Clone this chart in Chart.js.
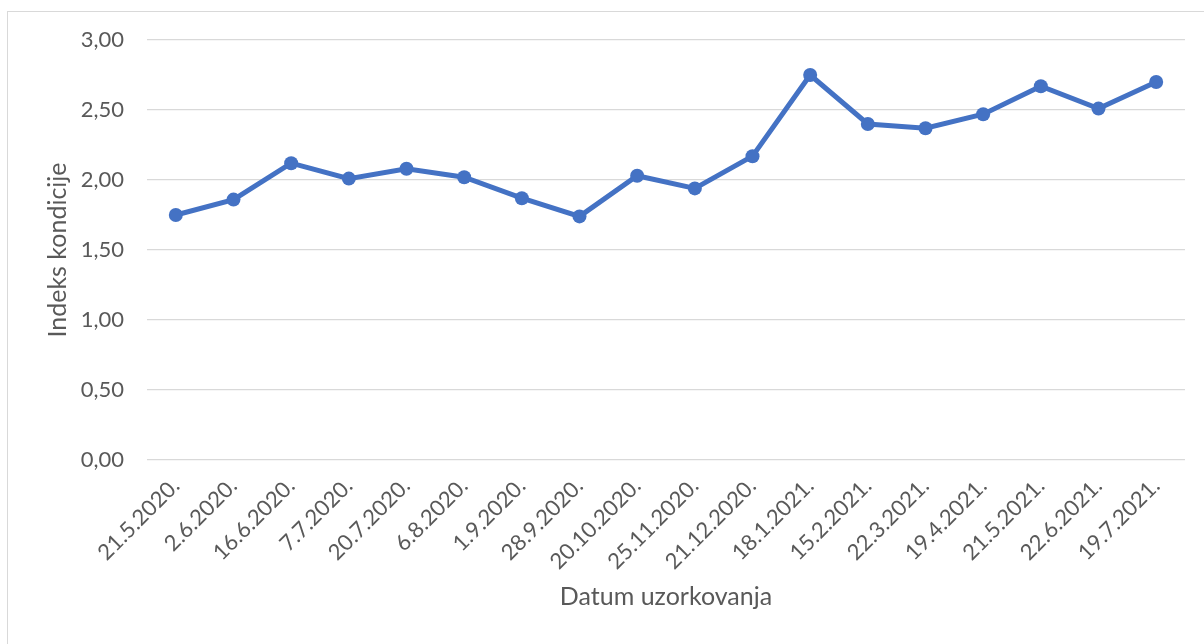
<!DOCTYPE html>
<html>
<head>
<meta charset="utf-8">
<script src="https://cdn.jsdelivr.net/npm/chart.js@4"></script>
<style>
  html, body { margin: 0; padding: 0; background: #ffffff; }
  body { width: 1204px; height: 644px; position: relative; overflow: hidden; }
  #frame { position: absolute; left: 7px; top: 11px; width: 1300px; height: 700px; border: 1px solid #d9d9d9; box-sizing: border-box; }
  #c { position: absolute; left: 0; top: 0; }
</style>
</head>
<body>
<div id="frame"></div>
<canvas id="c" width="1204" height="644"></canvas>
<script>
const categories = ['21.5.2020.', '2.6.2020.', '16.6.2020.', '7.7.2020.', '20.7.2020.', '6.8.2020.', '1.9.2020.', '28.9.2020.', '20.10.2020.', '25.11.2020.', '21.12.2020.', '18.1.2021.', '15.2.2021.', '22.3.2021.', '19.4.2021.', '21.5.2021.', '22.6.2021.', '19.7.2021.'];
const indeksKondicije = [1.75, 1.86, 2.12, 2.01, 2.08, 2.02, 1.87, 1.74, 2.03, 1.94, 2.17, 2.75, 2.40, 2.37, 2.47, 2.67, 2.51, 2.70];
const yTickLabels = ['0,00', '0,50', '1,00', '1,50', '2,00', '2,50', '3,00'];
const xTitle = 'Datum uzorkovanja';
const yTitle = 'Indeks kondicije';

const textColor = '#595959';
const fontFamily = 'Lato, "Open Sans", sans-serif';

new Chart(document.getElementById('c'), {
  type: 'line',
  data: {
    labels: categories,
    datasets: [{
      data: indeksKondicije,
      borderColor: '#4472c4',
      backgroundColor: '#4472c4',
      pointBackgroundColor: '#4472c4',
      pointBorderColor: '#4472c4',
      pointBorderWidth: 0,
      pointRadius: 7,
      borderWidth: 5,
      tension: 0,
      fill: false
    }]
  },
  options: {
    responsive: false,
    animation: false,
    devicePixelRatio: 1,
    layout: { padding: { top: 40, right: 19, bottom: 20, left: 0 } },
    plugins: { legend: { display: false }, tooltip: { enabled: false } },
    scales: {
      x: {
        offset: true,
        grid: { display: false, drawTicks: false },
        border: { display: false },
        ticks: {
          autoSkip: false,
          minRotation: 45,
          maxRotation: 45,
          padding: 13,
          color: textColor,
          font: { family: fontFamily, size: 22 }
        },
        title: {
          display: true,
          text: xTitle,
          color: textColor,
          font: { family: fontFamily, size: 25 },
          padding: { top: 0, bottom: 12 }
        },
        afterFit: (s) => { s.height = 164; }
      },
      y: {
        min: 0,
        max: 3,
        grid: { color: '#d9d9d9', lineWidth: 1.3, drawTicks: false },
        border: { display: false },
        ticks: {
          stepSize: 0.5,
          padding: 23,
          color: textColor,
          font: { family: fontFamily, size: 22 },
          callback: (v, i) => yTickLabels[i]
        },
        title: {
          display: true,
          text: yTitle,
          color: textColor,
          font: { family: fontFamily, size: 25 },
          padding: { top: 43, bottom: 0 }
        },
        afterFit: (s) => { s.width = 147; }
      }
    }
  }
});
</script>
</body>
</html>
